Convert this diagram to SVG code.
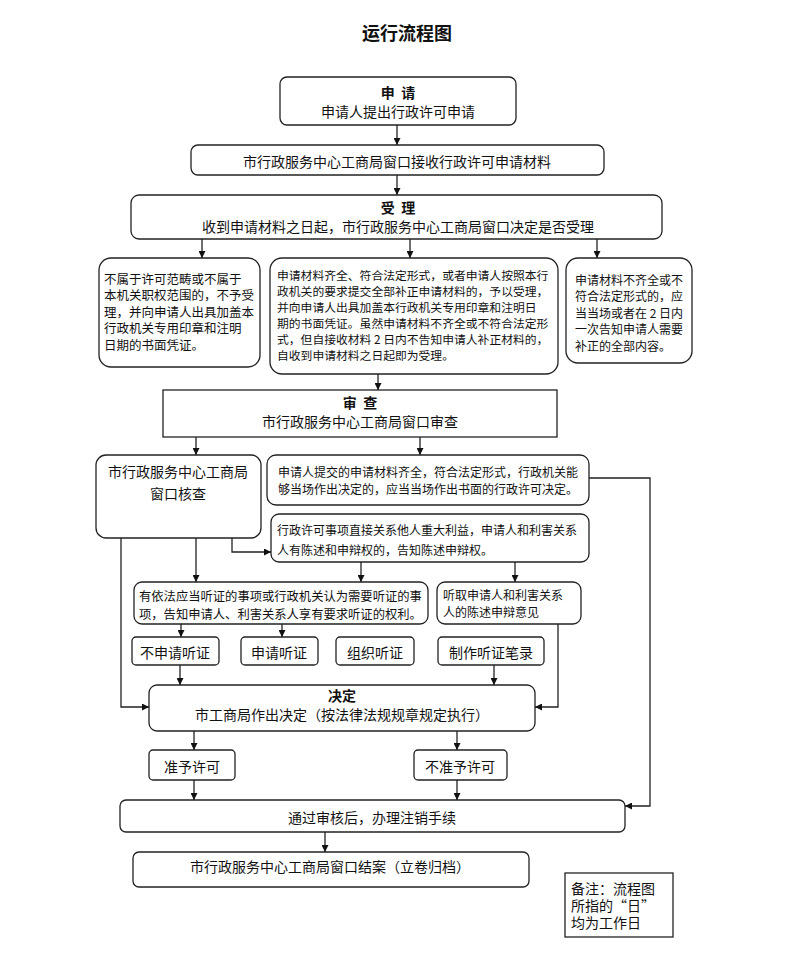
<svg xmlns="http://www.w3.org/2000/svg" width="793" height="958" viewBox="0 0 793 958">
<defs>
<marker id="ah" viewBox="0 0 10 10" refX="10" refY="5" markerWidth="7" markerHeight="7" markerUnits="userSpaceOnUse" orient="auto">
<path d="M0,0 L10,5 L0,10 z" fill="#111"/>
</marker>
<style>
.b{fill:#fff;stroke:#222;stroke-width:1.3}
.t{font-family:"Noto Sans CJK SC","Liberation Sans",sans-serif;fill:#111;dominant-baseline:central}
.c{text-anchor:middle}
.h{font-weight:bold;white-space:pre}
.ln{fill:none;stroke:#222;stroke-width:1.3;marker-end:url(#ah)}
</style>
</defs>
<rect width="793" height="958" fill="#fff"/>
<text class="t c h" x="407" y="32" font-size="18">运行流程图</text>

<g id="n-apply">
<rect class="b" x="280" y="77" width="236" height="48" rx="7"/>
<text class="t c h" x="398" y="92" font-size="14" xml:space="preserve">申  请</text>
<text class="t c" x="398" y="111" font-size="14">申请人提出行政许可申请</text>
</g>
<g id="n-receive">
<rect class="b" x="191" y="145" width="413" height="30" rx="7"/>
<text class="t c" x="397" y="161" font-size="14">市行政服务中心工商局窗口接收行政许可申请材料</text>
</g>
<g id="n-accept">
<rect class="b" x="131" y="195" width="531" height="44" rx="8"/>
<text class="t c h" x="398" y="207" font-size="14" xml:space="preserve">受  理</text>
<text class="t c" x="398" y="226" font-size="14">收到申请材料之日起，市行政服务中心工商局窗口决定是否受理</text>
</g>
<g id="n-reject">
<rect class="b" x="99" y="258" width="161" height="109" rx="12"/>
<text class="t" x="104" y="278" font-size="12.5">不属于许可范畴或不属于</text>
<text class="t" x="104" y="294.5" font-size="12.5">本机关职权范围的，不予受</text>
<text class="t" x="104" y="311" font-size="12.5">理，并向申请人出具加盖本</text>
<text class="t" x="104" y="327.5" font-size="12.5">行政机关专用印章和注明</text>
<text class="t" x="104" y="344" font-size="12.5">日期的书面凭证。</text>
</g>
<g id="n-ok">
<rect class="b" x="270" y="258" width="288" height="116" rx="12"/>
<text class="t" x="277" y="274" font-size="11.8">申请材料齐全、符合法定形式，或者申请人按照本行</text>
<text class="t" x="277" y="290" font-size="11.8">政机关的要求提交全部补正申请材料的，予以受理，</text>
<text class="t" x="277" y="306" font-size="11.8">并向申请人出具加盖本行政机关专用印章和注明日</text>
<text class="t" x="277" y="322" font-size="11.8">期的书面凭证。虽然申请材料不齐全或不符合法定形</text>
<text class="t" x="277" y="338" font-size="11.8">式，但自接收材料 2 日内不告知申请人补正材料的，</text>
<text class="t" x="277" y="354" font-size="11.8">自收到申请材料之日起即为受理。</text>
</g>
<g id="n-incomplete">
<rect class="b" x="566" y="258" width="126" height="105" rx="12"/>
<text class="t" x="575" y="279" font-size="12">申请材料不齐全或不</text>
<text class="t" x="575" y="295.5" font-size="12">符合法定形式的，应</text>
<text class="t" x="575" y="312" font-size="12">当当场或者在 2 日内</text>
<text class="t" x="575" y="328.5" font-size="12">一次告知申请人需要</text>
<text class="t" x="575" y="345" font-size="12">补正的全部内容。</text>
</g>
<g id="n-review">
<rect class="b" x="163" y="390" width="394" height="47"/>
<text class="t c h" x="360" y="402" font-size="14" xml:space="preserve">审  查</text>
<text class="t c" x="360" y="421" font-size="14">市行政服务中心工商局窗口审查</text>
</g>
<g id="n-check">
<rect class="b" x="96" y="455" width="165" height="83" rx="10"/>
<text class="t c" x="178" y="471" font-size="14">市行政服务中心工商局</text>
<text class="t c" x="178" y="493" font-size="14">窗口核查</text>
</g>
<g id="n-spot">
<rect class="b" x="267" y="455" width="322" height="50" rx="9"/>
<text class="t" x="278" y="471" font-size="12">申请人提交的申请材料齐全，符合法定形式，行政机关能</text>
<text class="t" x="278" y="488" font-size="12">够当场作出决定的，应当当场作出书面的行政许可决定。</text>
</g>
<g id="n-interest">
<rect class="b" x="271" y="514" width="318" height="48" rx="8"/>
<text class="t" x="277" y="529" font-size="12">行政许可事项直接关系他人重大利益，申请人和利害关系</text>
<text class="t" x="277" y="549" font-size="12">人有陈述和申辩权的，告知陈述申辩权。</text>
</g>
<g id="n-hearing">
<rect class="b" x="134" y="582" width="294" height="42" rx="8"/>
<text class="t" x="139" y="596" font-size="12.3">有依法应当听证的事项或行政机关认为需要听证的事</text>
<text class="t" x="139" y="614" font-size="12.3">项，告知申请人、利害关系人享有要求听证的权利。</text>
</g>
<g id="n-listen">
<rect class="b" x="437" y="582" width="144" height="42" rx="8"/>
<text class="t" x="443" y="594" font-size="12">听取申请人和利害关系</text>
<text class="t" x="443" y="611" font-size="12">人的陈述申辩意见</text>
</g>
<g id="n-nohear">
<rect class="b" x="132" y="637" width="87" height="28" rx="4"/>
<text class="t c" x="175" y="652" font-size="14">不申请听证</text>
</g>
<g id="n-reqhear">
<rect class="b" x="241" y="637" width="77" height="28" rx="4"/>
<text class="t c" x="279" y="652" font-size="14">申请听证</text>
</g>
<g id="n-orghear">
<rect class="b" x="336" y="637" width="78" height="28" rx="4"/>
<text class="t c" x="375" y="652" font-size="14">组织听证</text>
</g>
<g id="n-record">
<rect class="b" x="438" y="637" width="106" height="28" rx="4"/>
<text class="t c" x="491" y="652" font-size="14">制作听证笔录</text>
</g>
<g id="n-decide">
<rect class="b" x="149" y="685" width="386" height="46" rx="8"/>
<text class="t c h" x="342" y="695" font-size="14">决定</text>
<text class="t c" x="342" y="714" font-size="14">市工商局作出决定（按法律法规规章规定执行）</text>
</g>
<g id="n-grant">
<rect class="b" x="149" y="750" width="86" height="30" rx="4"/>
<text class="t c" x="192" y="766" font-size="14">准予许可</text>
</g>
<g id="n-deny">
<rect class="b" x="414" y="750" width="93" height="30" rx="4"/>
<text class="t c" x="460" y="766" font-size="14">不准予许可</text>
</g>
<g id="n-cancel">
<rect class="b" x="120" y="800" width="505" height="32" rx="6"/>
<text class="t c" x="372" y="817" font-size="14">通过审核后，办理注销手续</text>
</g>
<g id="n-close">
<rect class="b" x="133" y="852" width="396" height="35" rx="6"/>
<text class="t c" x="330" y="866" font-size="14">市行政服务中心工商局窗口结案（立卷归档）</text>
</g>
<g id="n-note">
<rect class="b" x="565" y="873" width="108" height="64"/>
<text class="t" x="571" y="888" font-size="14">备注：流程图</text>
<text class="t" x="571" y="905" font-size="14">所指的“日”</text>
<text class="t" x="571" y="922" font-size="14">均为工作日</text>
</g>

<g id="connectors">
<path class="ln" d="M397 125 V145"/>
<path class="ln" d="M397 175 V195"/>
<path class="ln" d="M202 239 V258"/>
<path class="ln" d="M410 239 V258"/>
<path class="ln" d="M597 239 V258"/>
<path class="ln" d="M378 374 V390"/>
<path class="ln" d="M196 437 V455"/>
<path class="ln" d="M420 437 V455"/>
<path class="ln" d="M232 538 V552 H271"/>
<path class="ln" d="M121 538 V707 H149"/>
<path class="ln" d="M196 538 V582"/>
<path class="ln" d="M589 478 H650 V806 H625"/>
<path class="ln" d="M361 562 V582"/>
<path class="ln" d="M515 562 V582"/>
<path class="ln" d="M181 624 V637"/>
<path class="ln" d="M282 624 V637"/>
<path class="ln" d="M180 665 V685"/>
<path class="ln" d="M494 665 V685"/>
<path class="ln" d="M558 624 V707 H535"/>
<path class="ln" d="M194 731 V750"/>
<path class="ln" d="M457 731 V750"/>
<path class="ln" d="M194 780 V800"/>
<path class="ln" d="M457 780 V800"/>
<path class="ln" d="M325 832 V852"/>
</g>
</svg>
